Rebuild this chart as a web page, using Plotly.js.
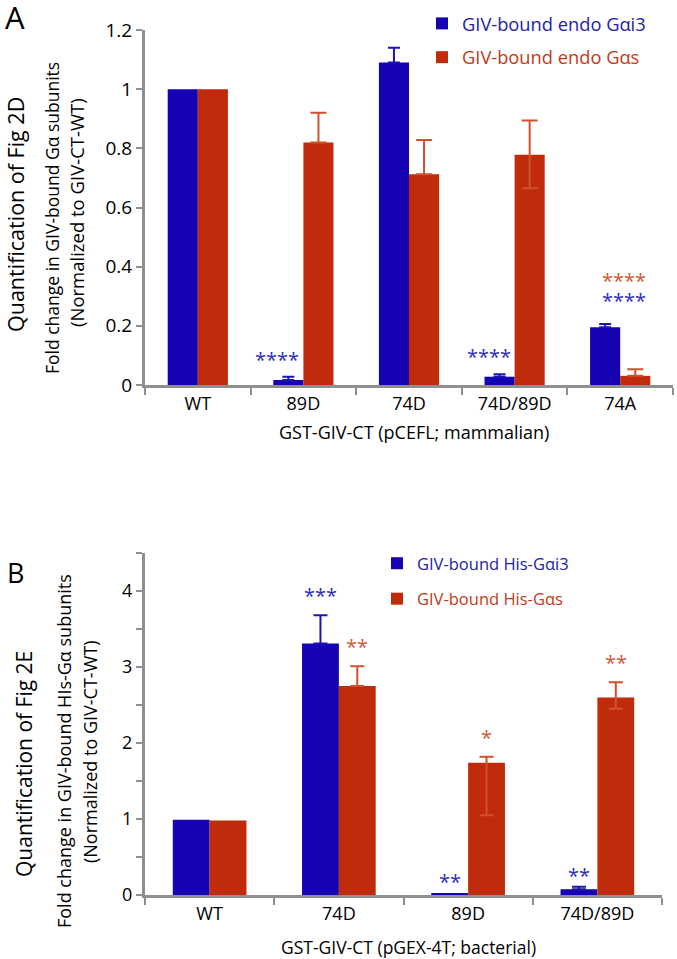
<!DOCTYPE html>
<html>
<head>
<meta charset="utf-8">
<script src="https://cdn.plot.ly/plotly-3.0.1.min.js"></script>
<style>
  html, body { margin: 0; padding: 0; background: #fff; }
  #plot { width: 677px; height: 959px; }
</style>
</head>
<body>
<div id="plot"></div>
<script>
// Panel A - endogenous G alpha pulled down from mammalian cells (Fig 2D)
var catsA = ['WT', '89D', '74D', '74D/89D', '74A'];
var gai3A = [1, 0.017, 1.09, 0.028, 0.195];
var gai3ErrA = [0, 0.011, 0.05, 0.008, 0.011];
var gasA = [1, 0.82, 0.712, 0.778, 0.031];
var gasErrA = [0, 0.10, 0.116, 0.116, 0.022];
var gasErrLowA = [0, 0, 0, 0.113, 0];

// Panel B - recombinant His-G alpha with bacterial GST-GIV-CT (Fig 2E)
var catsB = ['WT', '74D', '89D', '74D/89D'];
var gai3B = [0.99, 3.31, 0.02, 0.075];
var gai3ErrB = [0, 0.37, 0, 0.035];
var gasB = [0.98, 2.75, 1.74, 2.60];
var gasErrB = [0, 0.26, 0.08, 0.20];
var gasErrLowB = [0, 0, 0.69, 0.15];

// significance stars: category, colour series, stacking level
var starCatA = ['89D', '74D/89D', '74A', '74A'];
var starColA = ['i3', 'i3', 'i3', 's'];
var starLvlA = [0, 0, 0, 1];
var starTxtA = ['****', '****', '****', '****'];

var starCatB = ['74D', '74D', '89D', '89D', '74D/89D', '74D/89D'];
var starColB = ['i3', 's', 'i3', 's', 'i3', 's'];
var starTxtB = ['***', '**', '**', '*', '**', '**'];

var BLUE = '#1502b2', RED = '#c02c0b';
var BLUE_ERR = '#1c14b4', RED_ERR = '#d0522c';
var BLUE_TXT = '#2222a8', RED_TXT = '#c23a18';
var STAR_BLUE = '#2d2dbb', STAR_RED = '#cf5a32';
var AXIS = '#8f8f8f';
var FONT = 'Open Sans';

var W = 677, H = 959;
function px(x) { return x / W; }
function py(y) { return 1 - y / H; }

// no error bar at all where the error is zero (NaN makes plotly skip it)
function upErr(a) { return a.map(function (v) { return v > 0 ? v : NaN; }); }
function lowErr(up, low) { return up.map(function (v, i) { return v > 0 ? (low ? low[i] : 0) : NaN; }); }

var traces = [
    {
        type: 'bar', x: catsA, y: gai3A, xaxis: 'x', yaxis: 'y',
        name: '<span style="color:' + BLUE_TXT + '">GIV-bound endo Gαi3</span>',
        legend: 'legend', legendgroup: 'a1',
        marker: { color: BLUE },
        error_y: { type: 'data', array: upErr(gai3ErrA), arrayminus: lowErr(gai3ErrA),
                   symmetric: false, color: BLUE_ERR, thickness: 2, width: 6 }
    },
    {
        type: 'bar', x: catsA, y: gasA, xaxis: 'x', yaxis: 'y',
        name: '<span style="color:' + RED_TXT + '">GIV-bound endo Gαs</span>',
        legend: 'legend', legendgroup: 'a2',
        marker: { color: RED },
        error_y: { type: 'data', array: upErr(gasErrA), arrayminus: lowErr(gasErrA, gasErrLowA),
                   symmetric: false, color: RED_ERR, thickness: 2, width: 8 }
    },
    {
        type: 'bar', x: catsB, y: gai3B, xaxis: 'x2', yaxis: 'y2',
        name: '<span style="color:' + BLUE_TXT + '">GIV-bound His-Gαi3</span>',
        legend: 'legend2', legendgroup: 'b1',
        marker: { color: BLUE },
        error_y: { type: 'data', array: upErr(gai3ErrB), arrayminus: lowErr(gai3ErrB),
                   symmetric: false, color: BLUE_ERR, thickness: 2, width: 7 }
    },
    {
        type: 'bar', x: catsB, y: gasB, xaxis: 'x2', yaxis: 'y2',
        name: '<span style="color:' + RED_TXT + '">GIV-bound His-Gαs</span>',
        legend: 'legend2', legendgroup: 'b2',
        marker: { color: RED },
        error_y: { type: 'data', array: upErr(gasErrB), arrayminus: lowErr(gasErrB, gasErrLowB),
                   symmetric: false, color: RED_ERR, thickness: 2, width: 7 }
    }
];

var annotations = [];

for (var i = 0; i < starCatA.length; i++) {
    var k = catsA.indexOf(starCatA[i]);
    var topA = gai3A[k] + gai3ErrA[k];
    var stacked = starCatA.filter(function (c) { return c === starCatA[i]; }).length > 1;
    annotations.push({
        xref: 'x', yref: 'y', x: starCatA[i], y: topA,
        xshift: stacked ? 4 : -26, yshift: (stacked ? 8 : 2) + starLvlA[i] * 20,
        yanchor: 'bottom', showarrow: false, text: starTxtA[i],
        font: { family: FONT, size: 20, color: starColA[i] === 'i3' ? STAR_BLUE : STAR_RED }
    });
}

for (var j = 0; j < starCatB.length; j++) {
    var m = catsB.indexOf(starCatB[j]);
    var isI3 = starColB[j] === 'i3';
    var topB = isI3 ? gai3B[m] + gai3ErrB[m] : gasB[m] + gasErrB[m];
    annotations.push({
        xref: 'x2', yref: 'y2', x: starCatB[j], y: topB,
        xshift: isI3 ? -18.5 : 18.5, yshift: isI3 && topB < 0.5 ? -4 : 4,
        yanchor: 'bottom', showarrow: false, text: starTxtB[j],
        font: { family: FONT, size: 20, color: isI3 ? STAR_BLUE : STAR_RED }
    });
}

function paperText(t, x, y, size, angle) {
    annotations.push({
        xref: 'paper', yref: 'paper', x: px(x), y: py(y), xanchor: 'center', yanchor: 'middle',
        textangle: angle, showarrow: false, text: t, font: { family: FONT, size: size, color: '#000' }
    });
}
paperText('A', 15, 17, 31, 0);
paperText('B', 15, 572, 27, 0);
paperText('Quantification of Fig 2D', 15, 215, 21.5, -90);
paperText('Fold change in GIV-bound Gα subunits', 52, 218, 17.5, -90);
paperText('(Normalized to GIV-CT-WT)', 76, 213, 18.5, -90);
paperText('GST-GIV-CT (pCEFL; mammalian)', 414, 432, 18, 0);
paperText('Quantification of Fig 2E', 24, 764, 21, -90);
paperText('Fold change in GIV-bound HIs-Gα subunits', 64, 751, 18, -90);
paperText('(Normalized to GIV-CT-WT)', 90, 752, 18, -90);
paperText('GST-GIV-CT (pGEX-4T; bacterial)', 409, 947, 17.5, 0);

var ticksB = [0, 0.5, 1, 1.5, 2, 2.5, 3, 3.5, 4, 4.5];
var tickTextB = ticksB.map(function (v) { return v % 1 === 0 ? String(v) : ''; });

function xAxis(lo, hi, anchor) {
    return {
        domain: [px(lo), px(hi)], anchor: anchor,
        type: 'category', tickson: 'boundaries', ticks: 'outside', ticklen: 7, tickwidth: 2,
        tickcolor: AXIS, showline: true, linecolor: AXIS, linewidth: 3, showgrid: false,
        zeroline: false, tickfont: { family: FONT, size: 18, color: '#000' }
    };
}
function yAxis(lo, hi, anchor, fs) {
    return {
        domain: [py(lo), py(hi)], anchor: anchor,
        ticks: 'outside', ticklen: 6, tickwidth: 2, tickcolor: AXIS, showline: true,
        linecolor: AXIS, linewidth: 3, showgrid: false, zeroline: false,
        tickfont: { family: FONT, size: fs, color: '#000' }
    };
}

var yA = yAxis(385, 30, 'x', 19);
yA.range = [0, 1.2];
yA.dtick = 0.2;
var yB = yAxis(895, 553, 'x2', 18);
yB.range = [0, 4.5];
yB.tickmode = 'array';
yB.tickvals = ticksB;
yB.ticktext = tickTextB;

var layout = {
    width: W, height: H,
    margin: { l: 0, r: 0, t: 0, b: 0 },
    paper_bgcolor: '#fff', plot_bgcolor: 'rgba(0,0,0,0)',
    font: { family: FONT, color: '#000' },
    barmode: 'group', bargap: 0.43, bargroupgap: 0,
    xaxis: xAxis(145, 673, 'y'),
    yaxis: yA,
    xaxis2: xAxis(145, 662, 'y2'),
    yaxis2: yB,
    legend: {
        x: px(422), y: py(5), xanchor: 'left', yanchor: 'top',
        bgcolor: 'rgba(0,0,0,0)', font: { family: FONT, size: 18.3 },
        tracegroupgap: 7
    },
    legend2: {
        x: px(377), y: py(546), xanchor: 'left', yanchor: 'top',
        bgcolor: 'rgba(0,0,0,0)', font: { family: FONT, size: 16.5 },
        tracegroupgap: 11
    },
    annotations: annotations
};

var plotElement = document.getElementById('plot');
if (plotElement) {
    Plotly.newPlot('plot', traces, layout, { displayModeBar: false });
} else {
    console.error("No DOM element with id 'plot' exists on the page.");
}
</script>
</body>
</html>
